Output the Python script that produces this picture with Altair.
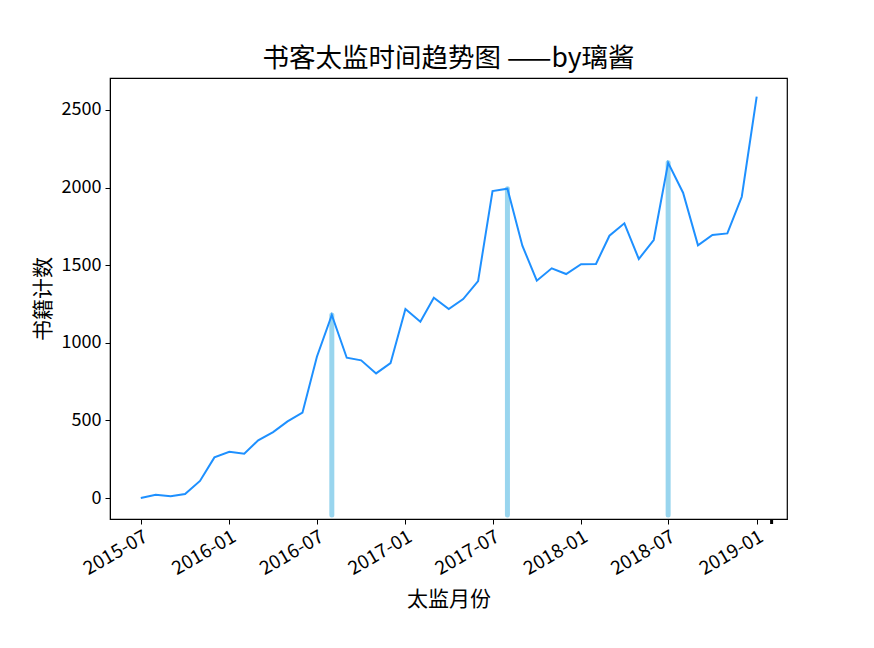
import altair as alt
import pandas as pd

months = pd.date_range("2015-07-01", "2019-01-01", freq="MS").strftime("%Y-%m-%d").tolist()
counts = [0, 21, 11, 26, 110, 262, 298, 285, 372, 425, 494, 550, 910, 1179,
          904, 887, 803, 869, 1218, 1136, 1291, 1217, 1282, 1398, 1978, 1993,
          1626, 1400, 1480, 1443, 1506, 1508, 1690, 1770, 1540, 1662, 2160,
          1967, 1628, 1695, 1705, 1941, 2586]
peak_months = ["2016-08-01", "2017-08-01", "2018-07-01"]
peak_values = [1179, 1993, 2160]
tick_dates = ["2015-07-01", "2016-01-01", "2016-07-01", "2017-01-01",
              "2017-07-01", "2018-01-01", "2018-07-01", "2019-01-01"]
y_ticks = [0, 500, 1000, 1500, 2000, 2500]

FONT = "Noto Sans CJK SC"

df = pd.DataFrame({"month": months, "count": counts})
peaks = pd.DataFrame({"month": peak_months, "top": peak_values, "bottom": [-110] * 3})
extra = pd.DataFrame({"month": ["2019-02-01"]})

xdom = [alt.DateTime(year=2015, month=4, date=28), alt.DateTime(year=2019, month=3, date=5)]
xscale = alt.Scale(domain=xdom, nice=False)
yscale = alt.Scale(domain=[-135, 2706], nice=False, zero=False)

xaxis = alt.Axis(
    values=[alt.DateTime(year=int(d[:4]), month=int(d[5:7]), date=1) for d in tick_dates],
    format="%Y-%m", labelAngle=-30, labelAlign="right", labelBaseline="top",
    labelFontSize=19, labelFont=FONT, labelColor="black", tickColor="black",
    tickSize=5, domainColor="black", grid=False, title="太监月份",
    titleFont=FONT, titleFontSize=21, titleFontWeight="normal", titleColor="black",
    titlePadding=10, labelPadding=3, labelOverlap=False, labelFlush=False,
)
yaxis = alt.Axis(
    values=y_ticks, format="d", labelFontSize=18, labelFont=FONT, labelColor="black",
    tickColor="black", tickSize=5, domainColor="black", grid=False,
    title="书籍计数", titleFont=FONT, titleFontSize=21, titleFontWeight="normal",
    titleColor="black", titlePadding=8, labelPadding=4,
)

line = alt.Chart(df).mark_line(color="#1E90FF", strokeWidth=2).encode(
    x=alt.X("month:T", scale=xscale, axis=xaxis),
    y=alt.Y("count:Q", scale=yscale, axis=yaxis),
)

vl = alt.Chart(peaks).mark_rule(color="skyblue", strokeWidth=5, opacity=0.85, strokeCap="round").encode(
    x=alt.X("month:T", scale=xscale),
    y=alt.Y("bottom:Q", scale=yscale),
    y2="top:Q",
)

tick = alt.Chart(extra).mark_rule(color="black", strokeWidth=3, clip=False).encode(
    x=alt.X("month:T", scale=xscale),
    y=alt.value(441),
    y2=alt.value(446),
)

chart = alt.layer(vl, line, tick).properties(
    width=677, height=441,
    title=alt.TitleParams("书客太监时间趋势图 ——by璃酱", font=FONT, fontSize=26.5,
                          fontWeight="normal", color="black", offset=6),
    padding={"left": 102, "top": 70, "right": 79, "bottom": 121},
    autosize=alt.AutoSizeParams(type="none"),
).configure_view(stroke="black", strokeWidth=1.2)

chart.save("out.html", embed_options={"renderer": "svg", "actions": False})
